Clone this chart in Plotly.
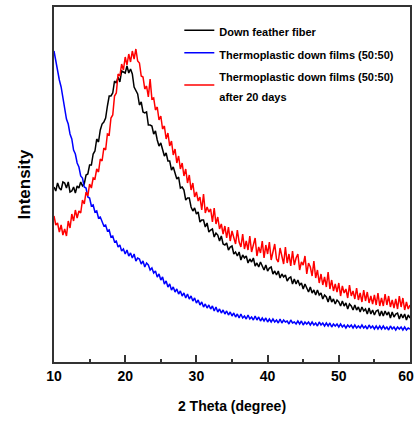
import plotly.graph_objects as go

# Down feather fiber (a.u.), one row per degree of 2-theta, 0.25 degree step
down_fiber = [
    175, 171, 179, 174,   # 10
    172, 180, 179, 174,   # 11
    180, 170, 171, 175,   # 12
    169, 176, 174, 180,   # 13
    176, 178, 187, 188,   # 14
    197, 197, 208, 211,   # 15
    223, 220, 232, 238,   # 16
    240, 244, 256, 266,   # 17
    266, 269, 281, 279,   # 18
    285, 280, 291, 290,   # 19
    289, 296, 289, 293,   # 20
    288, 275, 271, 268,   # 21
    257, 260, 250, 249,   # 22
    250, 237, 237, 236,   # 23
    228, 231, 222, 216,   # 24
    219, 212, 206, 209,   # 25
    201, 201, 192, 195,   # 26
    190, 183, 185, 174,   # 27
    175, 172, 162, 164,   # 28
    164, 155, 151, 154,   # 29
    148, 150, 140, 142,   # 30
    142, 135, 139, 130,   # 31
    132, 133, 125, 129,   # 32
    127, 121, 126, 118,   # 33
    117, 119, 112, 115,   # 34
    116, 108, 110, 106,   # 35
    110, 102, 107, 104,   # 36
    106, 99, 103, 100,    # 37
    104, 96, 99, 95,      # 38
    100, 96, 92, 97,      # 39
    91, 94, 95, 88,       # 40
    91, 87, 91, 84,       # 41
    88, 85, 87, 81,       # 42
    84, 85, 78, 83,       # 43
    78, 82, 77, 79,       # 44
    73, 78, 74, 70,       # 45
    75, 69, 72, 67,       # 46
    72, 67, 69, 63,       # 47
    67, 65, 60, 66,       # 48
    60, 63, 58, 62,       # 49
    60, 56, 61, 56,       # 50
    59, 53, 58, 56,       # 51
    52, 57, 52, 55,       # 52
    50, 55, 51, 53,       # 53
    48, 54, 48, 52,       # 54
    47, 51, 52, 46,       # 55
    51, 46, 51, 47,       # 56
    50, 44, 50, 45,       # 57
    48, 49, 43, 48,       # 58
    44, 48, 42, 47,       # 59
    44,                   # 60
]

# Thermoplastic down film (50:50), as made
film_fresh = [
    311, 300, 293, 282,   # 10
    275, 263, 255, 243,   # 11
    238, 228, 223, 212,   # 12
    208, 199, 195, 186,   # 13
    184, 175, 174, 165,   # 14
    164, 156, 157, 150,   # 15
    151, 144, 145, 141,   # 16
    136, 137, 131, 132,   # 17
    125, 126, 120, 121,   # 18
    115, 117, 111, 113,   # 19
    108, 112, 106, 109,   # 20
    104, 108, 101, 104,   # 21
    103, 98, 101, 95,     # 22
    99, 97, 92, 94,       # 23
    89, 91, 85, 88,       # 24
    82, 85, 78, 81,       # 25
    75, 78, 72, 75,       # 26
    70, 73, 68, 71,       # 27
    66, 69, 64, 68,       # 28
    63, 66, 61, 64,       # 29
    59, 62, 57, 60,       # 30
    55, 58, 54, 57,       # 31
    53, 56, 51, 55,       # 32
    50, 53, 49, 52,       # 33
    48, 51, 47, 50,       # 34
    46, 49, 45, 48,       # 35
    44, 48, 44, 46,       # 36
    43, 47, 43, 45,       # 37
    42, 46, 42, 45,       # 38
    41, 44, 41, 44,       # 39
    40, 43, 40, 43,       # 40
    40, 42, 39, 43,       # 41
    39, 42, 40, 41,       # 42
    38, 42, 39, 40,       # 43
    38, 41, 38, 41,       # 44
    37, 40, 38, 40,       # 45
    37, 40, 37, 39,       # 46
    36, 40, 37, 39,       # 47
    36, 39, 36, 39,       # 48
    35, 38, 36, 38,       # 49
    35, 38, 35, 37,       # 50
    34, 37, 35, 37,       # 51
    34, 37, 34, 36,       # 52
    34, 37, 34, 36,       # 53
    33, 37, 34, 36,       # 54
    33, 36, 33, 36,       # 55
    33, 36, 33, 35,       # 56
    32, 36, 33, 35,       # 57
    32, 35, 33, 35,       # 58
    32, 35, 32, 34,       # 59
    33,                   # 60
]

# Thermoplastic down film (50:50) after 20 days
film_aged = [
    146, 137, 139, 130,   # 10
    137, 127, 133, 126,   # 11
    141, 134, 148, 141,   # 12
    152, 144, 151, 149,   # 13
    162, 158, 170, 166,   # 14
    178, 174, 184, 183,   # 15
    193, 190, 203, 201,   # 16
    214, 212, 228, 227,   # 17
    244, 247, 266, 269,   # 18
    288, 286, 298, 292,   # 19
    305, 297, 308, 300,   # 20
    311, 303, 313, 301,   # 21
    299, 286, 285, 273,   # 22
    276, 265, 283, 263,   # 23
    264, 252, 255, 242,   # 24
    246, 233, 236, 223,   # 25
    229, 216, 221, 207,   # 26
    213, 199, 206, 193,   # 27
    199, 186, 193, 179,   # 28
    187, 172, 179, 165,   # 29
    170, 161, 165, 152,   # 30
    168, 149, 155, 150,   # 31
    153, 140, 154, 138,   # 32
    145, 133, 138, 128,   # 33
    136, 124, 135, 121,   # 34
    131, 125, 118, 132,   # 35
    120, 115, 128, 113,   # 36
    121, 112, 126, 110,   # 37
    118, 124, 106, 115,   # 38
    109, 121, 104, 117,   # 39
    108, 120, 102, 110,   # 40
    118, 103, 100, 114,   # 41
    105, 98, 115, 99,     # 42
    108, 96, 111, 97,     # 43
    104, 108, 92, 100,    # 44
    97, 106, 88, 99,      # 45
    95, 86, 101, 84,      # 46
    92, 79, 88, 77,       # 47
    85, 75, 90, 73,       # 48
    82, 71, 78, 70,       # 49
    79, 66, 76, 69,       # 50
    73, 64, 77, 66,       # 51
    71, 63, 74, 62,       # 52
    69, 60, 72, 61,       # 53
    70, 59, 66, 58,       # 54
    67, 57, 69, 56,       # 55
    64, 56, 68, 57,       # 56
    66, 55, 62, 54,       # 57
    63, 53, 66, 55,       # 58
    64, 52, 60, 53,       # 59
    57,                   # 60
]

# 2-theta positions of the samples above (degrees)
two_theta = [10 + 0.25 * i for i in range(len(down_fiber))]

series_names = [
    "Down feather fiber",
    "Thermoplastic down films (50:50)",
    "Thermoplastic down films (50:50)<br>after 20 days",
]
x_ticks = [10, 20, 30, 40, 50, 60]
# the last label carries trailing spaces so it stays inside the page edge
x_tick_text = ["<b>10</b>", "<b>20</b>", "<b>30</b>", "<b>40</b>", "<b>50</b>",
               "<b>60</b>&nbsp;&nbsp;"]

FONT = "Liberation Sans Narrow, Arial Narrow, Liberation Sans, Arial, sans-serif"

fig = go.Figure()
for name, values, color in [
    (series_names[0], down_fiber, "#000000"),
    (series_names[1], film_fresh, "#0000ff"),
    (series_names[2], film_aged, "#ff0000"),
]:
    fig.add_trace(go.Scatter(
        x=two_theta, y=values, mode="lines",
        name=f"<span style='font-size:11px'>{name}</span>",
        legendgroup=name,
        line=dict(color=color, width=1.5),
    ))

fig.update_layout(
    width=416, height=425,
    margin=dict(l=54, r=6, t=7, b=63),
    paper_bgcolor="white", plot_bgcolor="white",
    font=dict(family=FONT, color="black"),
    showlegend=True,
    legend=dict(
        x=0.352, y=0.98, xanchor="left", yanchor="top",
        bgcolor="rgba(0,0,0,0)", borderwidth=0,
        font=dict(family=FONT, size=15, color="black", weight="bold"),
        tracegroupgap=0, itemwidth=30,
    ),
)

fig.update_xaxes(
    range=[10, 60], tickvals=x_ticks, ticktext=x_tick_text,
    ticks="inside", ticklen=7, tickwidth=1.5, tickcolor="#333",
    minor=dict(dtick=5, tick0=0, ticks="inside", ticklen=3, tickwidth=1.5, tickcolor="#333"),
    tickfont=dict(size=14, family=FONT, color="black"),
    ticklabeloverflow="allow",
    showline=True, linecolor="#333", linewidth=2, mirror=True,
    showgrid=False, zeroline=False, automargin=False,
    title=dict(text="<b>2 Theta (degree)</b>", font=dict(size=14, family=FONT), standoff=18),
)
fig.update_yaxes(
    range=[0, 355], showticklabels=False, ticks="",
    showline=True, linecolor="#333", linewidth=2, mirror=True,
    showgrid=False, zeroline=False, automargin=False,
    title=dict(text="<b>Intensity</b>", font=dict(size=17, family=FONT), standoff=17),
)

fig.write_html("out.html")
